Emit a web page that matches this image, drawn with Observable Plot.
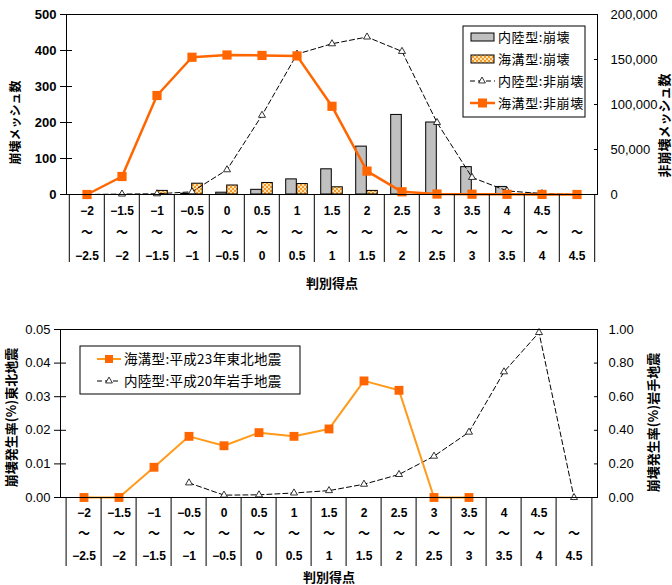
<!DOCTYPE html>
<html><head><meta charset="utf-8">
<script src="https://cdn.jsdelivr.net/npm/d3@7"></script>
<script src="https://cdn.jsdelivr.net/npm/@observablehq/plot@0.6"></script>
<style>
body{margin:0;background:#fff;width:672px;height:585px;overflow:hidden}
#c svg{display:block}
</style></head><body><div id="c"></div>
<script>
// ---- data ----
const catHi = ["−2","−1.5","−1","−0.5","0","0.5","1","1.5","2","2.5","3","3.5","4","4.5",""];
const catLo = ["−2.5","−2","−1.5","−1","−0.5","0","0.5","1","1.5","2","2.5","3","3.5","4","4.5"];
const cats = catHi.map((h, i) => h + "～" + catLo[i]);

// top panel
const inlandCollapse = [0, 0, 0, 2, 5, 13, 42, 70, 133, 221, 200, 76, 21, 2, 0];
const trenchCollapse = [0, 0, 10, 30, 25, 32, 29, 20, 10, 0, 0, 0, 0, 0, 0];
const inlandNon = [0, 500, 800, 3000, 27500, 88000, 156000, 167500, 175000, 159000, 80000, 19000, 4000, 1000, 0];
const trenchNon = [0, 20000, 110000, 152500, 155000, 154500, 154000, 98000, 26000, 3000, 500, 300, 200, 100, 0];
const topLeftTicks = [0, 100, 200, 300, 400, 500];
const topRightTicks = [0, 50000, 100000, 150000, 200000];

// bottom panel
const trenchRate = [0, 0, 0.0090, 0.0182, 0.0154, 0.0193, 0.0182, 0.0204, 0.0347, 0.0319, 0, 0, null, null, null];
const inlandRate = [null, null, null, 0.087, 0.014, 0.016, 0.027, 0.041, 0.079, 0.137, 0.246, 0.389, 0.748, 0.982, 0];
const botLeftTicks = [0, 0.01, 0.02, 0.03, 0.04, 0.05];
const botRightTicks = [0, 0.2, 0.4, 0.6, 0.8, 1.0];

const legendTop = ["内陸型:崩壊", "海溝型:崩壊", "内陸型:非崩壊", "海溝型:非崩壊"];
const legendBot = ["海溝型:平成23年東北地震", "内陸型:平成20年岩手地震"];

// ---- styles ----
const W = 672;
const NUM = "'Liberation Sans', Arial, 'Noto Sans CJK JP', sans-serif";
const JP = "'Noto Sans CJK JP', sans-serif";
const ORANGE = "#ff6600";
const ORANGE2 = "#ff9a1a";
const catFmt = d => { const i = cats.indexOf(d); return catHi[i] + "\n～\n" + catLo[i]; };

// ===== TOP =====
const tM = {l: 66, r: 75, t: 14, b: 106}, tH = 300;
const tBw = (W - tM.l - tM.r) / cats.length;
const k1 = 500 / topRightTicks[topRightTicks.length - 1];
const topRows = cats.map((c, i) => ({c, ic: inlandCollapse[i], tc: trenchCollapse[i], inn: inlandNon[i], tn: trenchNon[i]}));

const topPlot = Plot.plot({
  width: W, height: tH,
  marginLeft: tM.l, marginRight: tM.r, marginTop: tM.t, marginBottom: tM.b,
  style: {fontFamily: NUM, fontSize: "13px", color: "#000", background: "#fff"},
  x: {type: "band", domain: cats, padding: 0},
  y: {domain: [0, 500]},
  marks: [
    Plot.barY(topRows, {x: "c", y: "ic", fill: "#c0c0c0", stroke: "#000", strokeWidth: 1, insetLeft: tBw / 2 - 11, insetRight: tBw / 2}),
    Plot.barY(topRows, {x: "c", y: "tc", fill: "url(#hatchT)", stroke: "#000", strokeWidth: 1, insetLeft: tBw / 2, insetRight: tBw / 2 - 11}),
    Plot.line(topRows, {x: "c", y: d => d.inn * k1, stroke: "#000", strokeWidth: 1, strokeDasharray: "5,3"}),
    Plot.dot(topRows, {x: "c", y: d => d.inn * k1, symbol: "triangle", r: 2.6, fill: "#fff", stroke: "#000", strokeWidth: 0.8}),
    Plot.line(topRows, {x: "c", y: d => d.tn * k1, stroke: ORANGE, strokeWidth: 2.5}),
    Plot.dot(topRows, {x: "c", y: d => d.tn * k1, symbol: "square", r: 5.2, fill: ORANGE, stroke: "none"}),
    Plot.frame({stroke: "#000", strokeWidth: 1}),
    Plot.axisY({anchor: "left", ticks: topLeftTicks, tickSize: 6, tickPadding: 4, fontWeight: "bold", label: null}),
    Plot.axisY({anchor: "left", ticks: topLeftTicks, tickSize: 6, dx: 6, tickFormat: () => "", label: null}),
    Plot.axisY({anchor: "right", ticks: topRightTicks.map(v => v * k1), tickSize: 4, dx: -4, tickFormat: () => "", label: null}),
    Plot.axisY({anchor: "right", ticks: topRightTicks.map(v => v * k1), tickSize: 0, tickPadding: 13, tickFormat: d => d3.format(",")(Math.round(d / k1)), label: null}),
    Plot.axisX({anchor: "bottom", tickSize: 0, tickPadding: 4, tickFormat: catFmt, lineHeight: 1.9, fontSize: 12, fontWeight: "bold", label: null}),
    Plot.axisX({anchor: "bottom", tickSize: 68, dx: -tBw / 2, tickFormat: () => "", label: null}),
    Plot.axisX({anchor: "bottom", ticks: [cats[cats.length - 1]], tickSize: 68, dx: tBw / 2, tickFormat: () => "", label: null}),
    Plot.text(["判別得点"], {frameAnchor: "bottom", lineAnchor: "middle", dy: 89, fontFamily: JP, fontSize: 13, fontWeight: "bold"}),
    Plot.text(["崩壊メッシュ数"], {frameAnchor: "left", textAnchor: "middle", lineAnchor: "middle", dx: -50, dy: 18, rotate: -90, fontFamily: JP, fontSize: 12, fontWeight: "bold"}),
    Plot.text(["非崩壊メッシュ数"], {frameAnchor: "right", textAnchor: "middle", lineAnchor: "middle", dx: 67, dy: 21, rotate: -90, fontFamily: JP, fontSize: 13, fontWeight: "bold"})
  ]
});

// ===== BOTTOM =====
const bM = {l: 60, r: 75, t: 29, b: 88}, bH = 285;
const k2 = 0.05 / botRightTicks[botRightTicks.length - 1];
const botRows = cats.map((c, i) => ({c, tr: trenchRate[i], ir: inlandRate[i]}));
const botBw = (W - bM.l - bM.r) / cats.length;

const botPlot = Plot.plot({
  width: W, height: bH,
  marginLeft: bM.l, marginRight: bM.r, marginTop: bM.t, marginBottom: bM.b,
  style: {fontFamily: NUM, fontSize: "13px", color: "#000", background: "#fff"},
  x: {type: "band", domain: cats, padding: 0},
  y: {domain: [0, 0.05]},
  marks: [
    Plot.line(botRows, {x: "c", y: d => d.ir == null ? NaN : d.ir * k2, stroke: "#000", strokeWidth: 1, strokeDasharray: "5,3"}),
    Plot.dot(botRows.filter(d => d.ir != null), {x: "c", y: d => d.ir * k2, symbol: "triangle", r: 2.6, fill: "#fff", stroke: "#000", strokeWidth: 0.8}),
    Plot.line(botRows, {x: "c", y: d => d.tr == null ? NaN : d.tr, stroke: ORANGE2, strokeWidth: 2}),
    Plot.dot(botRows.filter(d => d.tr != null), {x: "c", y: "tr", symbol: "square", r: 5, fill: ORANGE, stroke: "none"}),
    Plot.frame({stroke: "#000", strokeWidth: 1}),
    Plot.axisY({anchor: "left", ticks: botLeftTicks, tickSize: 6, tickPadding: 4, tickFormat: d3.format(".2f"), label: null}),
    Plot.axisY({anchor: "left", ticks: botLeftTicks, tickSize: 6, dx: 6, tickFormat: () => "", label: null}),
    Plot.axisY({anchor: "right", ticks: botRightTicks.map(v => v * k2), tickSize: 4, dx: -4, tickFormat: () => "", label: null}),
    Plot.axisY({anchor: "right", ticks: botRightTicks.map(v => v * k2), tickSize: 0, tickPadding: 11, tickFormat: d => (d / k2).toFixed(2), label: null}),
    Plot.axisX({anchor: "bottom", tickSize: 0, tickPadding: 4, tickFormat: catFmt, lineHeight: 1.8, fontSize: 12, fontWeight: "bold", label: null}),
    Plot.axisX({anchor: "bottom", tickSize: 69, dx: -botBw / 2, tickFormat: () => "", label: null}),
    Plot.axisX({anchor: "bottom", ticks: [cats[cats.length - 1]], tickSize: 69, dx: botBw / 2, tickFormat: () => "", label: null}),
    Plot.text(["判別得点"], {frameAnchor: "bottom", lineAnchor: "middle", dy: 80, fontFamily: JP, fontSize: 13, fontWeight: "bold"}),
    Plot.text(["崩壊発生率(%)東北地震"], {frameAnchor: "left", textAnchor: "middle", lineAnchor: "middle", dx: -49, dy: 4, rotate: -90, fontFamily: JP, fontSize: 13, fontWeight: "bold"}),
    Plot.text(["崩壊発生率(%)岩手地震"], {frameAnchor: "right", textAnchor: "middle", lineAnchor: "middle", dx: 56, dy: 9, rotate: -90, fontFamily: JP, fontSize: 13, fontWeight: "bold"})
  ]
});

// ---- pattern + legends ----
const st = d3.select(topPlot);
const defs = st.append("defs");
const pat = defs.append("pattern").attr("id", "hatchT").attr("width", 4).attr("height", 4).attr("patternUnits", "userSpaceOnUse");
pat.append("rect").attr("width", 4).attr("height", 4).attr("fill", "#ffe3b0");
pat.append("rect").attr("width", 2).attr("height", 2).attr("fill", "#f59a2c");
pat.append("rect").attr("x", 2).attr("y", 2).attr("width", 2).attr("height", 2).attr("fill", "#f59a2c");

const lgT = st.append("g").attr("font-family", JP).attr("font-size", 13).attr("text-anchor", "start").attr("letter-spacing", "0.6px");
lgT.append("rect").attr("x", 463).attr("y", 26).attr("width", 122).attr("height", 91).attr("fill", "#fff").attr("stroke", "#000");
legendTop.forEach((t, i) => {
  const y = 37 + i * 22;
  if (i === 0) lgT.append("rect").attr("x", 471).attr("y", y - 4).attr("width", 23).attr("height", 8).attr("fill", "#c0c0c0").attr("stroke", "#000");
  if (i === 1) lgT.append("rect").attr("x", 471).attr("y", y - 4).attr("width", 23).attr("height", 8).attr("fill", "url(#hatchT)").attr("stroke", "#000");
  if (i === 2) {
    lgT.append("line").attr("x1", 470).attr("x2", 495).attr("y1", y).attr("y2", y).attr("stroke", "#000").attr("stroke-dasharray", "5,3");
    lgT.append("path").attr("d", d3.symbol(d3.symbolTriangle, 20)()).attr("transform", `translate(482,${y})`).attr("fill", "#fff").attr("stroke", "#000").attr("stroke-width", 0.8);
  }
  if (i === 3) {
    lgT.append("line").attr("x1", 470).attr("x2", 495).attr("y1", y).attr("y2", y).attr("stroke", ORANGE).attr("stroke-width", 2.5);
    lgT.append("rect").attr("x", 478).attr("y", y - 4.5).attr("width", 9).attr("height", 9).attr("fill", ORANGE);
  }
  lgT.append("text").attr("x", 498).attr("y", y).attr("dy", "0.35em").attr("fill", "#000").text(t);
});

const sb = d3.select(botPlot);
const lgB = sb.append("g").attr("font-family", JP).attr("font-size", 13.5).attr("text-anchor", "start").attr("letter-spacing", "0.3px");
lgB.append("rect").attr("x", 80).attr("y", 46).attr("width", 220).attr("height", 48).attr("fill", "#fff").attr("stroke", "#000");
legendBot.forEach((t, i) => {
  const y = 59 + i * 22;
  if (i === 0) {
    lgB.append("line").attr("x1", 97).attr("x2", 121).attr("y1", y).attr("y2", y).attr("stroke", ORANGE2).attr("stroke-width", 2);
    lgB.append("rect").attr("x", 105).attr("y", y - 4).attr("width", 8).attr("height", 8).attr("fill", ORANGE);
  } else {
    lgB.append("line").attr("x1", 97).attr("x2", 121).attr("y1", y).attr("y2", y).attr("stroke", "#000").attr("stroke-dasharray", "5,3");
    lgB.append("path").attr("d", d3.symbol(d3.symbolTriangle, 20)()).attr("transform", `translate(109,${y})`).attr("fill", "#fff").attr("stroke", "#000").attr("stroke-width", 0.8);
  }
  lgB.append("text").attr("x", 124).attr("y", y).attr("dy", "0.35em").attr("fill", "#000").text(t);
});

document.getElementById("c").append(topPlot, botPlot);
</script></body></html>
